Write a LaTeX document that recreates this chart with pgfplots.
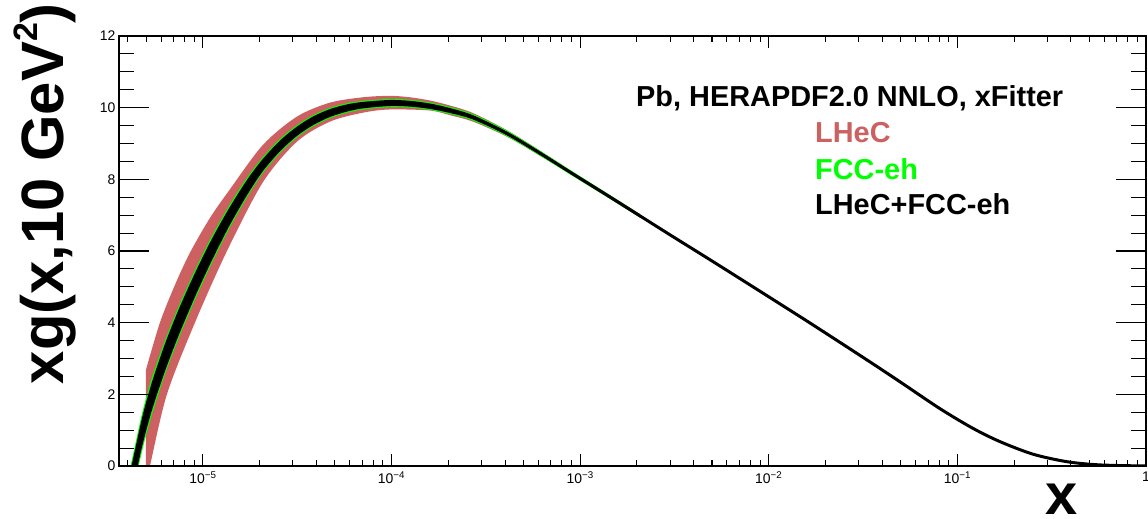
\documentclass[border=0pt]{standalone}
\usepackage{fontspec}
\setmainfont{Liberation Sans}
\usepackage{pgfplots}
\pgfplotsset{compat=1.18}
\usepackage{pgfplotstable}
\usepgfplotslibrary{fillbetween}
\definecolor{lhec}{RGB}{205,96,96}
\definecolor{fcc}{RGB}{0,255,0}

% central value of xg(x, Q^2=10 GeV^2)
\pgfplotstableread{
x y
4.003e-6 -0.87
4.344e-6 0.00
4.807e-6 1.04
5.397e-6 1.99
6.365e-6 3.10
7.551e-6 4.09
9.182e-6 5.11
1.116e-5 6.04
1.390e-5 6.98
1.732e-5 7.81
2.080e-5 8.40
2.561e-5 8.93
3.150e-5 9.34
3.830e-5 9.63
4.714e-5 9.85
5.800e-5 9.99
7.054e-5 10.07
9.806e-5 10.13
1.252e-4 10.11
1.598e-4 10.04
2.040e-4 9.92
2.702e-4 9.73
4.091e-4 9.28
6.121e-4 8.73
9.158e-4 8.15
1.387e-3 7.56
2.076e-3 6.98
3.105e-3 6.40
4.702e-3 5.81
7.036e-3 5.23
1.015e-2 4.70
1.589e-2 4.05
2.385e-2 3.45
3.568e-2 2.85
4.963e-2 2.35
8.087e-2 1.60
0.1210 1.05
0.1682 0.68
0.2517 0.33
0.3811 0.12
0.5703 0.03
1.0 0.00
}\central

% LHeC band: upper edge
\pgfplotstableread{
x y
4.986e-6 2.68
5.916e-6 4.00
7.105e-6 5.05
8.533e-6 5.95
1.089e-5 6.92
1.390e-5 7.72
2.080e-5 8.96
3.150e-5 9.75
4.714e-5 10.14
7.054e-5 10.29
9.806e-5 10.33
1.252e-4 10.29
1.598e-4 10.20
2.040e-4 10.06
2.702e-4 9.85
4.091e-4 9.37
6.121e-4 8.80
9.158e-4 8.20
1.387e-3 7.61
2.076e-3 7.03
}\lhecup

% LHeC band: lower edge
\pgfplotstableread{
x y
4.986e-6 -0.45
5.236e-6 0.00
6.443e-6 2.00
9.069e-6 4.00
1.341e-5 6.00
2.080e-5 7.92
3.150e-5 9.05
4.714e-5 9.61
7.054e-5 9.86
9.806e-5 9.95
1.598e-4 9.92
2.040e-4 9.79
2.702e-4 9.61
4.091e-4 9.19
6.121e-4 8.66
9.158e-4 8.10
1.387e-3 7.51
2.076e-3 6.93
}\lheclo

% FCC-eh band
\pgfplotstableread{
x lo hi
4.003e-6 -1.395 -0.345
4.344e-6 -0.525 0.525
4.807e-6 0.515 1.565
5.397e-6 1.475 2.505
6.365e-6 2.63 3.57
7.551e-6 3.645 4.535
9.182e-6 4.70 5.52
1.116e-5 5.665 6.415
1.390e-5 6.66 7.30
1.732e-5 7.54 8.08
2.080e-5 8.18 8.62
2.561e-5 8.735 9.125
3.150e-5 9.17 9.51
3.830e-5 9.475 9.785
4.714e-5 9.705 9.995
5.800e-5 9.857 10.123
7.054e-5 9.949 10.191
9.806e-5 10.016 10.244
1.252e-4 10.00 10.22
1.598e-4 9.935 10.145
2.040e-4 9.82 10.02
2.702e-4 9.638 9.822
4.091e-4 9.199 9.361
6.121e-4 8.66 8.80
9.158e-4 8.088 8.212
1.387e-3 7.506 7.614
2.076e-3 6.932 7.028
}\fccband

% LHeC+FCC-eh band
\pgfplotstableread{
x lo hi
4.003e-6 -1.27 -0.47
4.344e-6 -0.40 0.40
4.807e-6 0.64 1.44
5.397e-6 1.60 2.38
6.365e-6 2.72 3.48
7.551e-6 3.73 4.45
9.182e-6 4.78 5.44
1.116e-5 5.74 6.34
1.390e-5 6.73 7.23
1.732e-5 7.60 8.02
2.080e-5 8.23 8.57
2.561e-5 8.78 9.08
3.150e-5 9.21 9.47
3.830e-5 9.51 9.75
4.714e-5 9.74 9.96
5.800e-5 9.89 10.09
7.054e-5 9.98 10.16
9.806e-5 10.046 10.214
1.252e-4 10.03 10.19
1.598e-4 9.965 10.115
2.040e-4 9.852 9.988
2.702e-4 9.672 9.788
4.091e-4 9.235 9.325
6.121e-4 8.698 8.762
9.158e-4 8.128 8.172
1.387e-3 7.546 7.574
2.076e-3 6.972 6.988
}\combband

\begin{document}
\begin{tikzpicture}
\begin{axis}[
  at={(119bp,53bp)}, anchor=south west,
  scale only axis, width=1027bp, height=430bp,
  xmode=log, log basis x=10,
  xmin=3.59e-6, xmax=1, ymin=0, ymax=12,
  axis line style={line width=1.4bp},
  tick align=inside,
  major tick length=12bp, minor tick length=6bp,
  every tick/.style={line width=1.1bp, black},
  ytick=\empty,
  xticklabel={\pgfmathtruncatemacro\ex{-round(\tick)}\ifnum\ex=0 1\else 10\textsuperscript{−\ex}\fi},
  xticklabel style={font=\fontsize{14}{14}\selectfont, yshift=-2bp},
]
\addplot[name path=rhi, draw=none, smooth] table[x=x,y=y]{\lhecup};
\addplot[name path=rlo, draw=none, smooth] table[x=x,y=y]{\lheclo};
\addplot[fill=lhec, draw=none] fill between[of=rhi and rlo];
\addplot[name path=glo, draw=none, smooth] table[x=x,y=lo]{\fccband};
\addplot[name path=ghi, draw=none, smooth] table[x=x,y=hi]{\fccband};
\addplot[fill=fcc, draw=none] fill between[of=ghi and glo];
\addplot[name path=blo, draw=none, smooth] table[x=x,y=lo]{\combband};
\addplot[name path=bhi, draw=none, smooth] table[x=x,y=hi]{\combband};
\addplot[fill=black, draw=none] fill between[of=bhi and blo];
\addplot[black, line width=3bp, smooth] table[x=x,y=y]{\central};
\end{axis}
\begin{axis}[
  at={(119bp,53bp)}, anchor=south west,
  scale only axis, width=1027bp, height=430bp,
  xmode=log, log basis x=10,
  xmin=3.59e-6, xmax=1, ymin=0, ymax=12,
  axis line style={line width=1.4bp},
  tick align=inside,
  major tick length=30bp, minor tick length=15bp,
  every tick/.style={line width=1.1bp, black},
  xmajorticks=false, xminorticks=false,
  ytick={0,2,4,6,8,10,12},
  minor y tick num=3,
  /pgf/number format/assume math mode=true,
  yticklabel style={font=\fontsize{14}{14}\selectfont},
]
\addplot[draw=none] coordinates {(1e-3,5)};
\end{axis}
\node[rotate=90, anchor=base east, inner sep=0pt, font=\bfseries\fontsize{60}{60}\selectfont] at (63bp,516bp) {xg(x,10 GeV\raisebox{0.42em}{\fontsize{34}{34}\selectfont 2})};
\node[anchor=base, inner sep=0pt, font=\bfseries\fontsize{58}{58}\selectfont] at (1062bp,5bp) {x};
\node[anchor=base west, inner sep=0pt, font=\bfseries\fontsize{29}{29}\selectfont] at (636bp,412bp) {Pb, HERAPDF2.0 NNLO, xFitter};
\node[anchor=base west, inner sep=0pt, font=\bfseries\fontsize{29}{29}\selectfont, text=lhec] at (815bp,376.3bp) {LHeC};
\node[anchor=base west, inner sep=0pt, font=\bfseries\fontsize{29}{29}\selectfont, text=fcc] at (815bp,339bp) {FCC-eh};
\node[anchor=base west, inner sep=0pt, font=\bfseries\fontsize{29}{29}\selectfont] at (815bp,304bp) {LHeC+FCC-eh};
\pgfresetboundingbox
\path[use as bounding box] (0,0) rectangle (1148bp,519bp);
\end{tikzpicture}
\end{document}
